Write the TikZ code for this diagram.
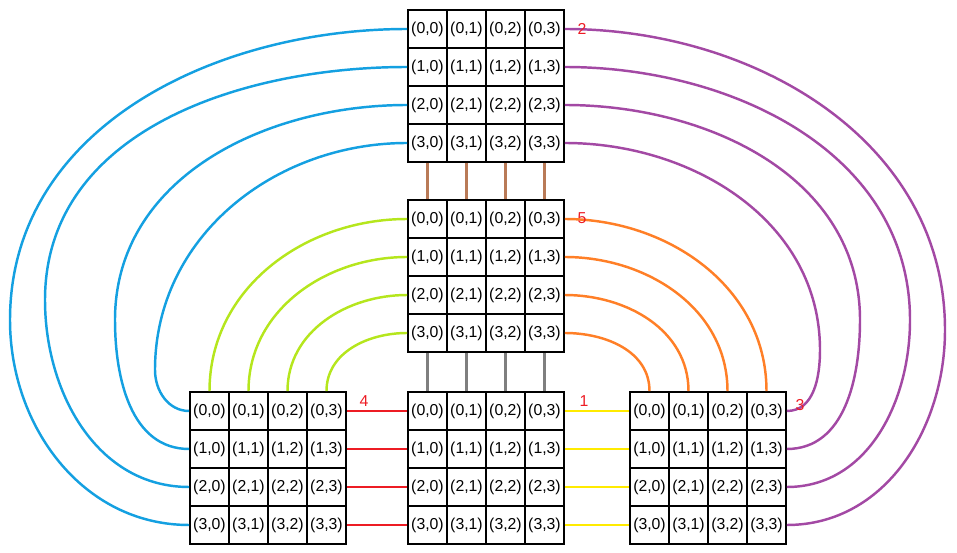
\documentclass[tikz,border=0pt]{standalone}
\usepackage{fontspec}
\setmainfont{Liberation Sans}
\usetikzlibrary{positioning}
\definecolor{cblue}{RGB}{20,160,225}
\definecolor{cpurple}{RGB}{163,73,164}
\definecolor{cgreen}{RGB}{181,230,29}
\definecolor{corange}{RGB}{255,127,39}
\definecolor{cyellow}{RGB}{255,235,0}
\definecolor{cred}{RGB}{237,28,36}
\definecolor{cbrown}{RGB}{185,122,87}
\definecolor{cgray}{RGB}{127,127,127}
\tikzset{
  cell/.style={draw, line width=1pt, minimum width=0.78cm, minimum height=0.76cm, inner sep=0pt, font=\small},
  num/.style={text=cred, font=\small},
  wire/.style={line width=1.4pt}
}
\newcommand{\grid}[3]{%
  \foreach \i in {0,...,3}{\foreach \j in {0,...,3}{%
    \node[cell] (#1-\i-\j) at ({#2+19.5+39*\j},{-(#3+19+38*\i)}) {(\i,\j)};}}}
\begin{document}
\begin{tikzpicture}[x=0.02cm,y=0.02cm]
\useasboundingbox (0,0) rectangle (957,-553);
\grid{T}{408}{10}
\grid{M}{408}{200}
\grid{L}{190}{392}
\grid{B}{408}{392}
\grid{R}{630}{392}

% top -> bottom left
\foreach \i/\k/\xx/\yy in {0/3/10/320,1/2/45/300,2/1/115/320,3/0/155/370}
  \draw[wire, cblue] (T-\i-0.west) to[out=180,in=90] (\xx,-\yy) to[out=-90,in=180] (L-\k-0.west);
% top -> bottom right
\foreach \i/\k/\xx/\yy in {0/3/945/330,1/2/910/320,2/1/860/320,3/0/820/350}
  \draw[wire, cpurple] (T-\i-3.east) to[out=0,in=90] (\xx,-\yy) to[out=-90,in=0] (R-\k-3.east);
% top -> middle, middle -> bottom
\foreach \j in {0,...,3}{
  \draw[wire, cbrown] (T-3-\j.south) -- (M-0-\j.north);
  \draw[wire, cgray] (M-3-\j.south) -- (B-0-\j.north);
}
% middle -> sides
\foreach \i/\j in {0/0,1/1,2/2,3/3}
  \draw[wire, cgreen] (M-\i-0.west) to[out=180,in=90] (L-0-\j.north);
\foreach \i/\j in {0/3,1/2,2/1,3/0}
  \draw[wire, corange] (M-\i-3.east) to[out=0,in=90] (R-0-\j.north);
% bottom row
\foreach \i in {0,...,3}{
  \draw[wire, cred] (L-\i-3.east) -- (B-\i-0.west);
  \draw[wire, cyellow] (B-\i-3.east) -- (R-\i-0.west);
}

\node[num] (n2) at (582,-29) {2};
\node[num] (n5) at (582,-218) {5};
\node[num] (n4) at (364,-401) {4};
\node[num] (n1) at (584,-401) {1};
\node[num] (n3) at (800,-405) {3};
\end{tikzpicture}
\end{document}
